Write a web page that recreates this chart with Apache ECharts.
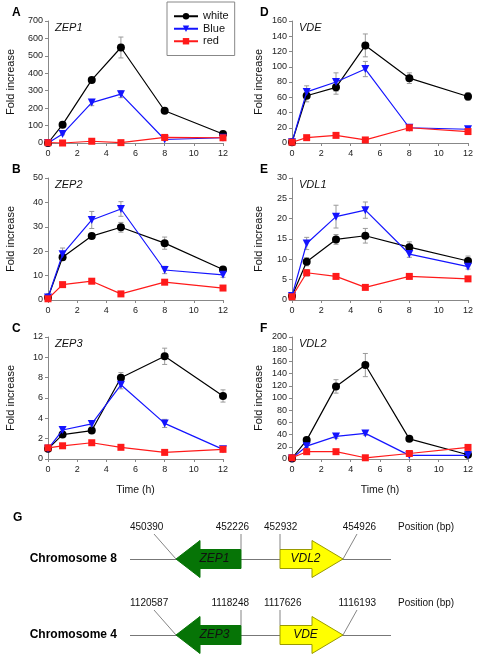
<!DOCTYPE html>
<html><head><meta charset="utf-8">
<script src="https://cdn.jsdelivr.net/npm/echarts@6/dist/echarts.min.js"></script>
<style>html,body{margin:0;padding:0;background:#fff}#c{width:478px;height:660px}</style>
</head><body><div id="c"></div><script>
// ---------- data ----------
const times = [0, 1, 3, 5, 8, 12];
const seriesNames = ['white', 'Blue', 'red'];
const xTicks = [0, 2, 4, 6, 8, 10, 12];

// A: ZEP1
const zep1White = [0, 105, 362, 548, 185, 52];
const zep1WhiteErr = [0, 8, 12, 60, 10, 8];
const zep1Blue = [0, 52, 232, 280, 20, 30];
const zep1BlueErr = [0, 5, 18, 20, 3, 3];
const zep1Red = [2, 0, 10, 2, 32, 30];
const zep1RedErr = [0, 0, 2, 1, 3, 3];
// B: ZEP2
const zep2White = [1, 17.5, 26.2, 29.8, 23.3, 12.5];
const zep2WhiteErr = [0, 1, 1, 2, 2.5, 1];
const zep2Blue = [1, 18.8, 32.8, 37.3, 12.3, 10.3];
const zep2BlueErr = [0, 2.5, 3.5, 3, 1.5, 1];
const zep2Red = [0.5, 6.3, 7.7, 2.5, 7.3, 4.9];
const zep2RedErr = [0, 0.5, 0.5, 0.3, 0.5, 0.4];
// C: ZEP3
const zep3White = [1.0, 2.4, 2.8, 8.0, 10.1, 6.2];
const zep3WhiteErr = [0, 0.2, 0.2, 0.5, 0.8, 0.6];
const zep3Blue = [1.0, 2.85, 3.45, 7.3, 3.5, 0.95];
const zep3BlueErr = [0, 0.3, 0.2, 0.4, 0.4, 0.1];
const zep3Red = [1.1, 1.3, 1.6, 1.15, 0.65, 0.95];
const zep3RedErr = [0, 0.1, 0.1, 0.1, 0.1, 0.1];
// D: VDE
const vdeWhite = [1, 62, 73, 128, 85, 61];
const vdeWhiteErr = [0, 8, 9, 15, 7, 5];
const vdeBlue = [1, 67, 80, 97, 20, 18];
const vdeBlueErr = [0, 8, 12, 10, 2, 2];
const vdeRed = [1, 7, 10, 4, 20, 15];
const vdeRedErr = [0, 1, 1, 1, 2, 2];
// E: VDL1
const vdl1White = [1, 9.4, 14.9, 15.8, 13.0, 9.6];
const vdl1WhiteErr = [0, 1, 1.2, 1.8, 1.3, 1.2];
const vdl1Blue = [1, 13.9, 20.5, 22.1, 11.3, 8.2];
const vdl1BlueErr = [0, 1.5, 2.8, 2, 0.8, 0.6];
const vdl1Red = [0.8, 6.7, 5.8, 3.1, 5.8, 5.2];
const vdl1RedErr = [0, 0.8, 0.4, 0.3, 0.3, 0.3];
// F: VDL2
const vdl2White = [1, 31, 119, 154, 33, 7];
const vdl2WhiteErr = [0, 3, 11, 19, 3, 1];
const vdl2Blue = [1, 21, 37, 42, 6, 6];
const vdl2BlueErr = [0, 2, 3, 3, 1, 1];
const vdl2Red = [2, 12, 12, 2, 9, 19];
const vdl2RedErr = [0, 1, 1, 0.5, 1, 1];

const panelLetters = ['A', 'B', 'C', 'D', 'E', 'F'];
const panelGenes = ['ZEP1', 'ZEP2', 'ZEP3', 'VDE', 'VDL1', 'VDL2'];
const yMaxes = [700, 50, 12, 160, 30, 200];
const yIntervals = [100, 10, 2, 20, 5, 20];
const whiteVals = [zep1White, zep2White, zep3White, vdeWhite, vdl1White, vdl2White];
const whiteErrs = [zep1WhiteErr, zep2WhiteErr, zep3WhiteErr, vdeWhiteErr, vdl1WhiteErr, vdl2WhiteErr];
const blueVals = [zep1Blue, zep2Blue, zep3Blue, vdeBlue, vdl1Blue, vdl2Blue];
const blueErrs = [zep1BlueErr, zep2BlueErr, zep3BlueErr, vdeBlueErr, vdl1BlueErr, vdl2BlueErr];
const redVals = [zep1Red, zep2Red, zep3Red, vdeRed, vdl1Red, vdl2Red];
const redErrs = [zep1RedErr, zep2RedErr, zep3RedErr, vdeRedErr, vdl1RedErr, vdl2RedErr];

// G: gene map
const chromosomes = ['Chromosome 8', 'Chromosome 4'];
const geneNames = ['ZEP1', 'VDL2', 'ZEP3', 'VDE'];
const geneChrom = ['Chromosome 8', 'Chromosome 8', 'Chromosome 4', 'Chromosome 4'];
const geneStrand = [-1, 1, -1, 1];
const geneLeftPos = ['450390', '452932', '1120587', '1117626'];
const geneRightPos = ['452226', '454926', '1118248', '1116193'];

// ---------- layout (not data) ----------
const FONT = 'Liberation Sans, Arial, sans-serif';
const gridLeft = [48, 48, 48, 292, 292, 292];
const gridWidth = [175, 175, 175, 176, 176, 176];
const gridTop = [21, 178, 337, 21, 178, 337];
const gridH = 122;
const nameGaps = [32, 32, 32, 28, 28, 28];
// schematic drawing slots along the chromosome line (0..261 units)
const geneSlotLeft = [46, 150, 46, 150];
const geneSlotRight = [111, 213, 111, 213];
const geneHead = [24, 31, 24, 31];
const geneFill = ['#067406', '#ffff00', '#067406', '#ffff00'];
const geneStroke = ['#067406', '#9a9a00', '#067406', '#9a9a00'];

const colors = { white: '#000000', Blue: '#1414ff', red: '#ff1a1a' };
const symbols = { white: 'circle', Blue: 'triangle', red: 'rect' };
const symSizes = { white: 8, Blue: 8, red: 7 };

const grids = [], xAxes = [], yAxes = [], series = [], graphics = [];

function errSeries(i, vals, errs) {
  return {
    type: 'custom', xAxisIndex: i, yAxisIndex: i, z: 1, silent: true,
    data: times.map((t, j) => [t, vals[j], errs[j]]),
    renderItem: (params, api) => {
      const x = api.value(0), y = api.value(1), e = api.value(2);
      if (!e) return { type: 'group', children: [] };
      const top = api.coord([x, y + e]), bot = api.coord([x, Math.max(0, y - e)]);
      const w = 2.5, st = { stroke: '#9a9a9a', lineWidth: 1 };
      return { type: 'group', children: [
        { type: 'line', shape: { x1: top[0], y1: top[1], x2: bot[0], y2: bot[1] }, style: st },
        { type: 'line', shape: { x1: top[0] - w, y1: top[1], x2: top[0] + w, y2: top[1] }, style: st },
        { type: 'line', shape: { x1: bot[0] - w, y1: bot[1], x2: bot[0] + w, y2: bot[1] }, style: st }
      ] };
    }
  };
}

for (let i = 0; i < 6; i++) {
  grids.push({ left: gridLeft[i], top: gridTop[i], width: gridWidth[i], height: gridH, containLabel: false, outerBoundsMode: 'none' });
  const bottomRow = (i === 2 || i === 5);
  xAxes.push({
    type: 'value', gridIndex: i, min: 0, max: 12, interval: 2,
    name: bottomRow ? 'Time (h)' : '', nameLocation: 'middle', nameGap: 26,
    nameTextStyle: { fontFamily: FONT, fontSize: 10.5, color: '#111' },
    axisLine: { show: true, onZero: false, lineStyle: { color: '#888', width: 1 } },
    axisTick: { show: true, length: 3, lineStyle: { color: '#888' } },
    axisLabel: { fontFamily: FONT, fontSize: 9, color: '#222', margin: 6 },
    splitLine: { show: false }
  });
  yAxes.push({
    type: 'value', gridIndex: i, min: 0, max: yMaxes[i], interval: yIntervals[i],
    name: 'Fold increase', nameLocation: 'middle', nameGap: nameGaps[i],
    nameTextStyle: { fontFamily: FONT, fontSize: 11, color: '#111' },
    axisLine: { show: true, lineStyle: { color: '#888', width: 1 } },
    axisTick: { show: true, length: 3, lineStyle: { color: '#888' } },
    axisLabel: { fontFamily: FONT, fontSize: 9, color: '#222', margin: 5 },
    splitLine: { show: false }
  });
  const sets = [[whiteVals[i], whiteErrs[i]], [blueVals[i], blueErrs[i]], [redVals[i], redErrs[i]]];
  sets.forEach((s) => series.push(errSeries(i, s[0], s[1])));
  sets.forEach((s, k) => {
    const nm = seriesNames[k];
    series.push({
      type: 'line', name: nm, xAxisIndex: i, yAxisIndex: i, z: 2 + k,
      data: times.map((t, j) => [t, s[0][j]]),
      symbol: symbols[nm], symbolSize: symSizes[nm], symbolRotate: nm === 'Blue' ? 180 : 0,
      showAllSymbol: true,
      lineStyle: { color: colors[nm], width: 1.2 },
      itemStyle: { color: colors[nm], borderWidth: 0 },
      emphasis: { disabled: true }
    });
  });
  graphics.push({ type: 'text', left: gridLeft[i] - (i < 3 ? 36 : 32), top: gridTop[i] - 14,
    style: { text: panelLetters[i], font: 'bold 12px ' + FONT, fill: '#000' } });
  graphics.push({ type: 'text', left: gridLeft[i] + 7, top: gridTop[i] + 1,
    style: { text: panelGenes[i], font: 'italic 11px ' + FONT, fill: '#111' } });
}

// Panel G grid
grids.push({ left: 130, width: 261, top: 559, height: 76, containLabel: false, outerBoundsMode: 'none' });
xAxes.push({ type: 'value', gridIndex: 6, min: 0, max: 261, show: false });
yAxes.push({
  type: 'category', gridIndex: 6, data: chromosomes, boundaryGap: false, inverse: true,
  axisLine: { show: false }, axisTick: { show: false },
  axisLabel: { fontFamily: FONT, fontSize: 12, fontWeight: 'bold', color: '#000', margin: 13 },
  splitLine: { show: true, lineStyle: { color: '#777', width: 1 } }
});
series.push({
  type: 'custom', xAxisIndex: 6, yAxisIndex: 6, silent: true, z: 5,
  data: geneNames.map((g, k) => [geneSlotLeft[k], chromosomes.indexOf(geneChrom[k]), geneSlotRight[k], k]),
  renderItem: (params, api) => {
    const k = api.value(3);
    const a = api.coord([api.value(0), api.value(1)]);
    const b = api.coord([api.value(2), api.value(1)]);
    const L = a[0], R = b[0], cy = a[1];
    const hh = 18.5, bh = 9.5, hl = geneHead[k], st = geneStrand[k];
    let pts;
    if (st < 0) {
      pts = [[L, cy], [L + hl, cy - hh], [L + hl, cy - bh], [R, cy - bh], [R, cy + bh], [L + hl, cy + bh], [L + hl, cy + hh]];
    } else {
      pts = [[R, cy], [R - hl, cy - hh], [R - hl, cy - bh], [L, cy - bh], [L, cy + bh], [R - hl, cy + bh], [R - hl, cy + hh]];
    }
    const lead = { stroke: '#666', lineWidth: 0.8 };
    const tf = '10px ' + FONT;
    const ty = cy - 31.5, ly = cy - 25;
    const kids = [
      { type: 'polygon', shape: { points: pts }, style: { fill: geneFill[k], stroke: geneStroke[k], lineWidth: 1 } },
      { type: 'text', x: (L + R) / 2 - st * 6, y: cy, style: { text: geneNames[k], font: 'italic 12px ' + FONT, fill: '#111', align: 'center', verticalAlign: 'middle' } }
    ];
    if (st < 0) {
      kids.push({ type: 'line', shape: { x1: L - 22, y1: ly, x2: L, y2: cy }, style: lead });
      kids.push({ type: 'text', x: L - 46, y: ty, style: { text: geneLeftPos[k], font: tf, fill: '#111', align: 'left', verticalAlign: 'middle' } });
      kids.push({ type: 'line', shape: { x1: R, y1: ly, x2: R, y2: cy - bh }, style: lead });
      kids.push({ type: 'text', x: R + 8, y: ty, style: { text: geneRightPos[k], font: tf, fill: '#111', align: 'right', verticalAlign: 'middle' } });
    } else {
      kids.push({ type: 'line', shape: { x1: L, y1: ly, x2: L, y2: cy - bh }, style: lead });
      kids.push({ type: 'text', x: L - 16, y: ty, style: { text: geneLeftPos[k], font: tf, fill: '#111', align: 'left', verticalAlign: 'middle' } });
      kids.push({ type: 'line', shape: { x1: R + 14, y1: ly, x2: R, y2: cy }, style: lead });
      kids.push({ type: 'text', x: R + 33, y: ty, style: { text: geneRightPos[k], font: tf, fill: '#111', align: 'right', verticalAlign: 'middle' } });
      kids.push({ type: 'text', x: R + 55, y: ty, style: { text: 'Position (bp)', font: tf, fill: '#111', align: 'left', verticalAlign: 'middle' } });
    }
    return { type: 'group', children: kids };
  }
});
graphics.push({ type: 'text', left: 13, top: 512, style: { text: 'G', font: 'bold 12px ' + FONT, fill: '#000' } });

const chart = echarts.init(document.getElementById('c'), null, { renderer: 'canvas' });
chart.setOption({
  animation: false,
  backgroundColor: '#fff',
  grid: grids, xAxis: xAxes, yAxis: yAxes, series: series, graphic: graphics,
  legend: {
    data: seriesNames, orient: 'vertical', left: 167, top: 2,
    padding: [8, 6, 8, 6], itemWidth: 24, itemHeight: 8, itemGap: 0,
    borderColor: '#888', borderWidth: 1, selectedMode: false,
    textStyle: { fontFamily: FONT, fontSize: 11, color: '#111', lineHeight: 12.5 }
  }
});
</script></body></html>
